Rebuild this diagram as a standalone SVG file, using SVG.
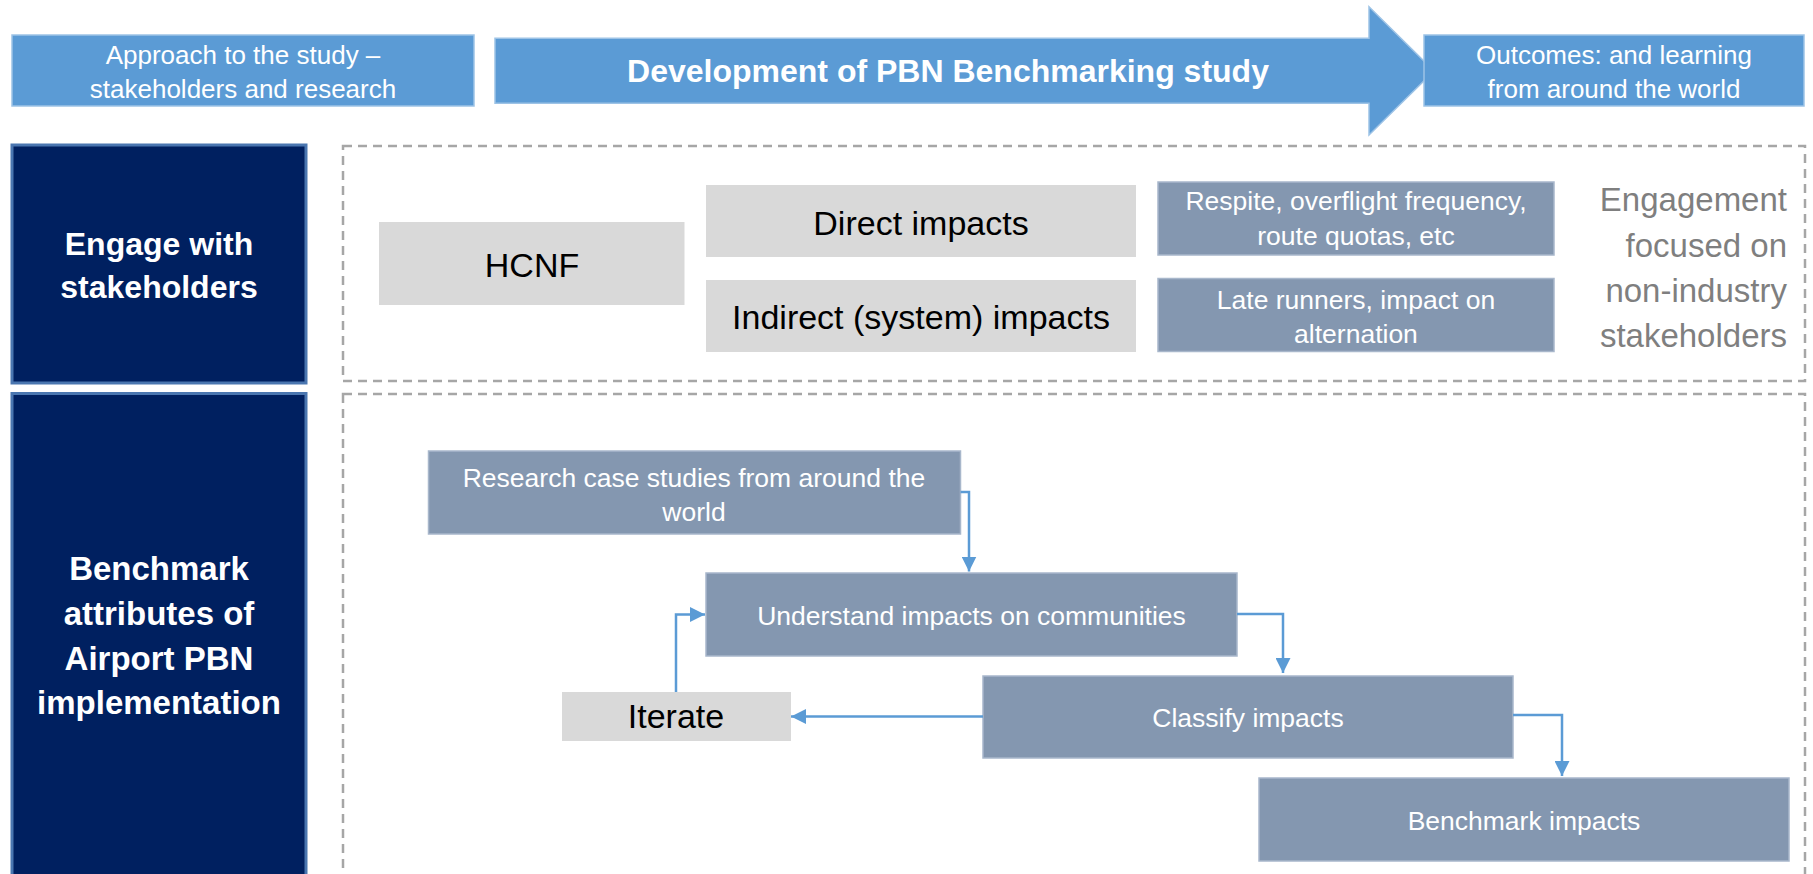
<svg xmlns="http://www.w3.org/2000/svg" width="1813" height="874" viewBox="0 0 1813 874">
<defs>
<style>
.hdr{fill:#5B9BD5;stroke:#9DC3E6;stroke-width:1.5}
.navy{fill:#002060;stroke:#4A76B0;stroke-width:3}
.grey{fill:#D9D9D9}
.slate{fill:#8497B0;stroke:#A8B7CB;stroke-width:1.5}
.dash{fill:none;stroke:#A6A6A6;stroke-width:2.5;stroke-dasharray:9 6}
.conn{fill:none;stroke:#5B9BD5;stroke-width:2.5}
text{font-family:"Liberation Sans",Arial,sans-serif;text-anchor:middle}
.wt{fill:#FFFFFF;font-size:26px}
.wb{fill:#FFFFFF;font-size:32px;font-weight:bold}
.wb2{fill:#FFFFFF;font-size:33px;font-weight:bold}
.bk{fill:#000000;font-size:34px}
.sl{fill:#FFFFFF;font-size:26.5px}
.gy{fill:#7F7F7F;font-size:33px;text-anchor:end}
</style>
<marker id="ah" viewBox="0 0 15 15" refX="15" refY="7.5" markerWidth="15" markerHeight="15" markerUnits="userSpaceOnUse" orient="auto">
<path d="M0,0 L15,7.5 L0,15 Z" fill="#5B9BD5"/>
</marker>
</defs>

<g id="dashed-frames">
<rect class="dash" x="343" y="146" width="1462" height="235"/>
<rect class="dash" x="343" y="394" width="1462" height="500"/>
</g>

<g id="approach">
<rect class="hdr" x="12" y="35" width="462" height="71"/>
<text class="wt" x="243" y="63.5">Approach to the study –</text>
<text class="wt" x="243" y="98">stakeholders and research</text>
</g>

<g id="development">
<path d="M495,38.3 H1369 V6.7 L1434,71 L1369,135 V103.3 H495 Z" fill="#5B9BD5" stroke="#9DC3E6" stroke-width="1.5"/>
<text x="948" y="82" style="fill:#FFFFFF;font-size:32px;font-weight:bold">Development of PBN Benchmarking study</text>
</g>

<g id="outcomes">
<rect class="hdr" x="1424" y="35" width="380" height="71"/>
<text class="wt" x="1614" y="64">Outcomes: and learning</text>
<text class="wt" x="1614" y="98">from around the world</text>
</g>

<g id="engage">
<rect class="navy" x="12" y="145" width="294" height="238"/>
<text class="wb" x="159" y="255">Engage with</text>
<text class="wb" x="159" y="298">stakeholders</text>
</g>

<g id="benchmark-attributes">
<rect class="navy" x="12" y="393.5" width="294" height="500"/>
<text class="wb2" x="159" y="580">Benchmark</text>
<text class="wb2" x="159" y="625">attributes of</text>
<text class="wb2" x="159" y="670">Airport PBN</text>
<text class="wb2" x="159" y="714">implementation</text>
</g>

<g id="hcnf">
<rect class="grey" x="379" y="222" width="305.5" height="83"/>
<text class="bk" x="532" y="277">HCNF</text>
</g>

<g id="direct">
<rect class="grey" x="706" y="185" width="430" height="72"/>
<text class="bk" x="921" y="235">Direct impacts</text>
</g>

<g id="indirect">
<rect class="grey" x="706" y="280" width="430" height="72"/>
<text class="bk" x="921" y="329">Indirect (system) impacts</text>
</g>

<g id="respite">
<rect class="slate" x="1158" y="182" width="396" height="73"/>
<text class="sl" x="1356" y="210">Respite, overflight frequency,</text>
<text class="sl" x="1356" y="245">route quotas, etc</text>
</g>

<g id="late-runners">
<rect class="slate" x="1158" y="278.5" width="396" height="73"/>
<text class="sl" x="1356" y="309">Late runners, impact on</text>
<text class="sl" x="1356" y="343">alternation</text>
</g>

<g id="engagement-note">
<text class="gy" x="1787" y="211">Engagement</text>
<text class="gy" x="1787" y="257">focused on</text>
<text class="gy" x="1787" y="302">non-industry</text>
<text class="gy" x="1787" y="347">stakeholders</text>
</g>

<g id="research">
<rect class="slate" x="428.5" y="451" width="532" height="83"/>
<text class="sl" x="694" y="487">Research case studies from around the</text>
<text class="sl" x="694" y="521">world</text>
</g>

<g id="understand">
<rect class="slate" x="706" y="573" width="531" height="83"/>
<text class="sl" x="971.5" y="625">Understand impacts on communities</text>
</g>

<g id="classify">
<rect class="slate" x="983" y="676" width="530" height="82"/>
<text class="sl" x="1248" y="727">Classify impacts</text>
</g>

<g id="benchmark-impacts">
<rect class="slate" x="1259" y="778" width="530" height="83"/>
<text class="sl" x="1524" y="830">Benchmark impacts</text>
</g>

<g id="iterate">
<rect class="grey" x="562" y="692" width="229" height="49"/>
<text class="bk" x="676" y="728">Iterate</text>
</g>

<g id="connectors">
<path class="conn" d="M960.5,492 H969 V571.5" marker-end="url(#ah)"/>
<path class="conn" d="M1237,614 H1283 V673" marker-end="url(#ah)"/>
<path class="conn" d="M1513,715 H1562 V776" marker-end="url(#ah)"/>
<path class="conn" d="M983,716.5 H791" marker-end="url(#ah)"/>
<path class="conn" d="M676,692 V614.5 H705" marker-end="url(#ah)"/>
</g>
</svg>
